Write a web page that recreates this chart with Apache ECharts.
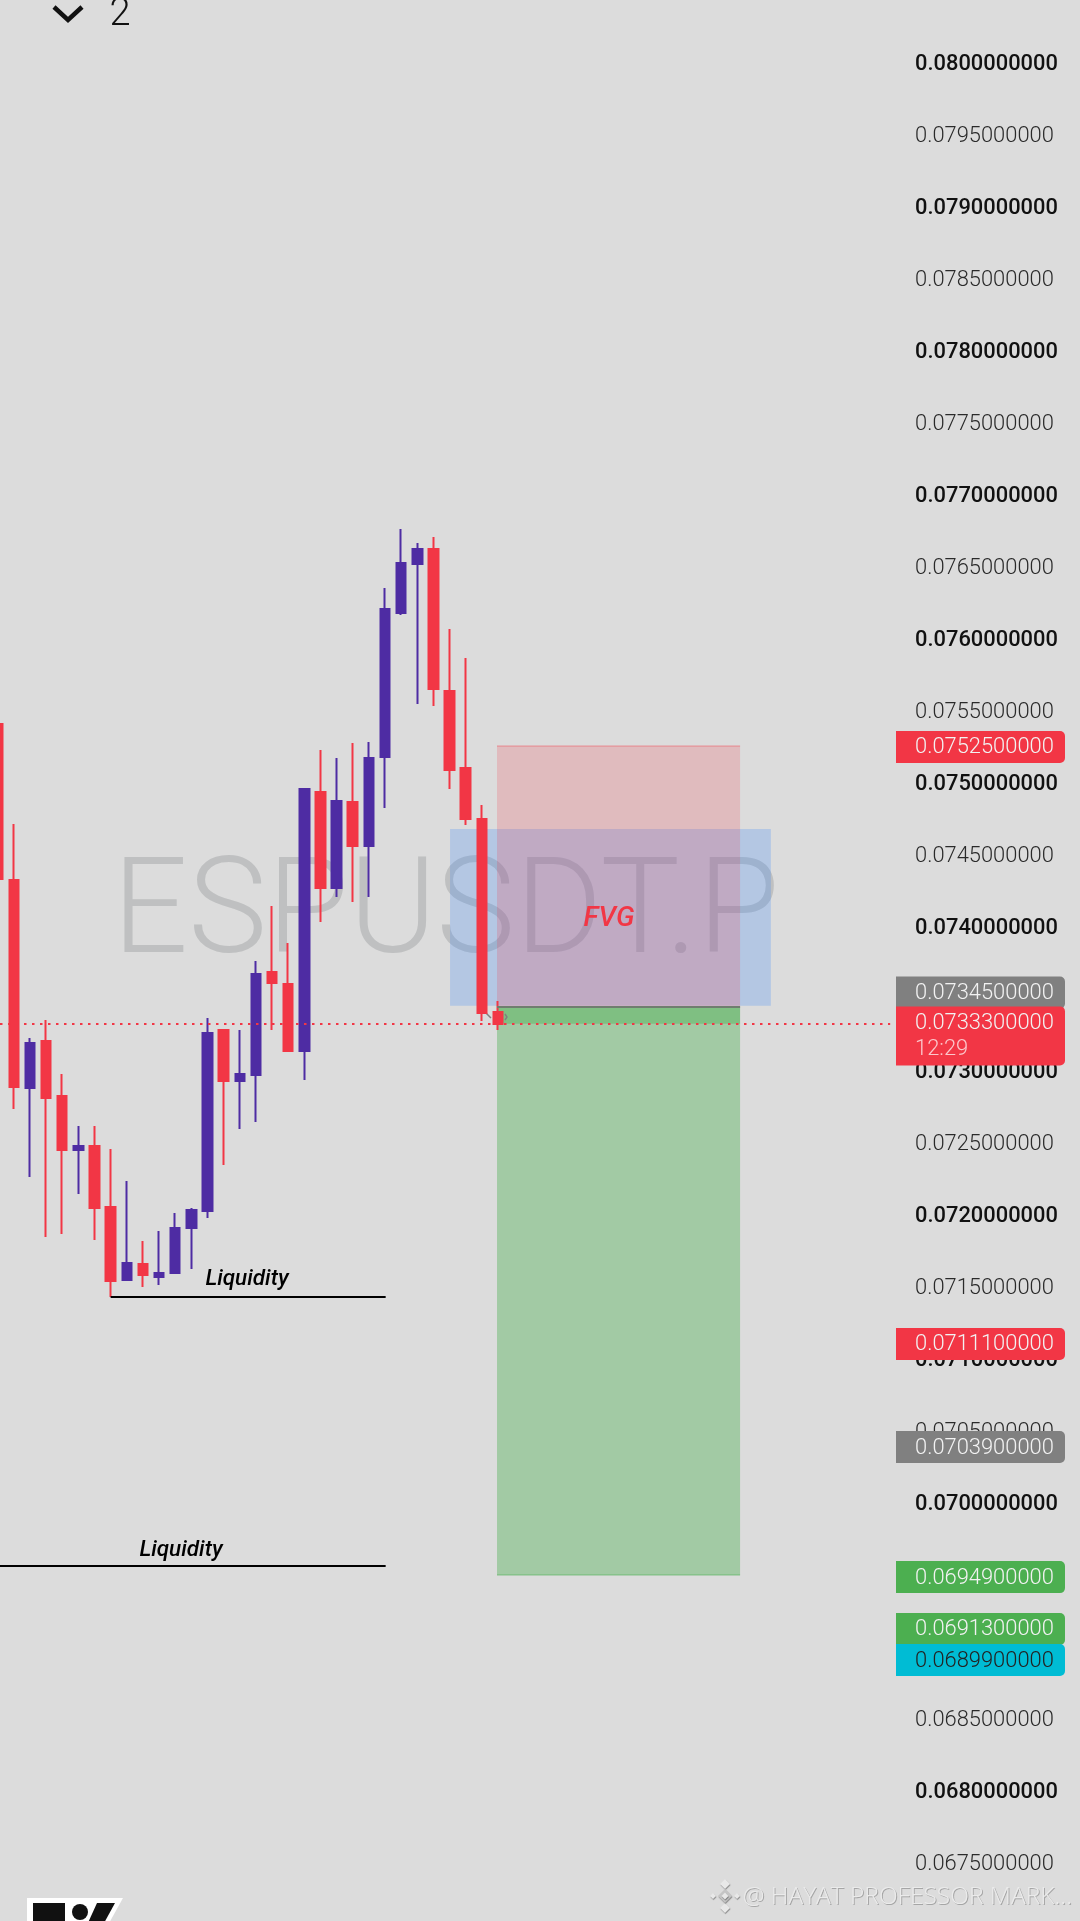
<!DOCTYPE html>
<html><head><meta charset="utf-8">
<style>html,body{margin:0;padding:0;background:#dcdcdc}#c{width:1080px;height:1921px}</style>
<script src="https://cdn.jsdelivr.net/npm/echarts@6/dist/echarts.min.js"></script>
</head><body><div id="c"></div>
<script>
const opens  =[.075403,.074319,.072874,.073201,.072819,.072443,.072471,.072048,.071540,.071652,.071561,.071589,.071902,.072020,.073277,.072923,.072965,.073680,.073597,.073131,.074931,.074264,.074861,.074555,.075174,.076174,.076514,.076619,.075632,.075097,.074743,.073402];
const closes =[.074326,.072881,.073187,.072805,.072443,.072471,.072041,.071533,.071658,.071575,.071589,.071902,.072027,.073256,.072923,.072971,.073666,.073604,.073131,.074951,.074264,.074868,.074555,.075167,.076202,.076521,.076619,.075646,.075083,.074743,.073395,.073319];
const lows   =[.074326,.072728,.072256,.071839,.071860,.072138,.071818,.071422,.071540,.071492,.071506,.071589,.071617,.071971,.072339,.072589,.072638,.073277,.073131,.072930,.074027,.074201,.074166,.074201,.074819,.076160,.075542,.075528,.074951,.074701,.073340,.073277];
const highs  =[.075403,.074708,.073222,.073347,.072971,.072610,.072610,.072450,.072228,.071811,.071881,.072006,.072041,.073360,.073277,.073277,.073756,.074139,.073882,.074958,.075222,.075167,.075271,.075278,.076348,.076758,.076660,.076702,.076063,.075861,.074840,.073479];

const slotCount=56, yMin=.067, yMax=.0805, yStep=.0005;
const categories=Array.from({length:slotCount},(_,i)=>String(i));

const zoneStart =[28.03,30.94,30.94,30.94];
const zoneEnd   =[47.91,46,46,46];
const zoneTop   =[.074673,.07525,.07344,.07344];
const zoneBottom=[.073446,.07344,.06949,.07332];
const zoneColor =['rgba(41,128,255,0.22)','rgba(242,54,69,0.2)','rgba(76,175,80,0.4)','rgba(76,175,80,0.4)'];

const lineStart=[7,-0.5,30.94,-0.351,30.94,30.94];
const lineEnd  =[24.04,24.04,46,55.3,46,46];
const lineLevel=[.071422,.069554,.07344,.073319,.07525,.06949];
const lineColor=['#000','#000','#6f7d6f','#f23645','rgba(242,54,69,0.3)','rgba(76,175,80,0.4)'];
const lineSize =[2,2,2,2,1.5,1.5];
const lineDash =['solid','solid','solid',[2.5,5.5],'solid','solid'];

const noteText =['Liquidity','Liquidity','FVG'];
const noteSlot =[15.45,11.36,37.88];
const noteLevel=[.071544,.069662,.074045];
const noteFill =['#000','#000','#f23645'];
const noteFont =['italic 500 22.5px Roboto','italic 500 22.5px Roboto','italic 500 28px Roboto'];

const tagPrice=[.07525,.07345,.07333,.07111,.07039,.06949,.06913,.06899];
const tagShift=[1,-12.5,0,2,1.5,2,2,13];
const tagFill =['#f23645','#808080','#f23645','#f23645','#808080','#4caf50','#4caf50','#00bcd4'];
const tagInk  =['#f2f2f2','#f2f2f2','#f2f2f2','#f2f2f2','#f2f2f2','#f2f2f2','#f2f2f2','#222'];
const tagExtra=['','','12:29','','','','',''];

const chart=echarts.init(document.getElementById('c'),null,{renderer:'canvas',width:1080,height:1921});

function diamond(cx,cy,r,fill){return {type:'polygon',z:20,shape:{points:[[cx,cy-r],[cx+r,cy],[cx,cy+r],[cx-r,cy]]},style:{fill,shadowColor:'rgba(0,0,0,0.4)',shadowBlur:1,shadowOffsetX:0.5,shadowOffsetY:1}};}

chart.setOption({
  animation:false,
  backgroundColor:'#dcdcdc',
  grid:{left:-10.4,top:-9.67,width:903.8,height:1943.19,containLabel:false,outerBoundsMode:'none'},
  xAxis:[
    {type:'category',data:categories,boundaryGap:true,axisLine:{show:false},axisTick:{show:false},axisLabel:{show:false},splitLine:{show:false}},
    {type:'value',min:-0.5,max:slotCount-0.5,show:false,splitLine:{show:false}}
  ],
  yAxis:{type:'value',position:'right',min:yMin,max:yMax,interval:yStep,scale:true,
    axisLine:{show:false},axisTick:{show:false},splitLine:{show:false},
    axisLabel:{margin:21.6,align:'left',padding:[5,0,0,0],showMinLabel:false,showMaxLabel:false,
      formatter:v=>{const t=v.toFixed(10);return Math.round(v*1e4)%10===0?'{a|'+t+'}':'{b|'+t+'}';},
      rich:{a:{fontFamily:'Roboto',fontSize:21.9,fontWeight:500,color:'#111'},
            b:{fontFamily:'Roboto',fontSize:21.9,fontWeight:300,color:'#2a2a2a'}}}},
  graphic:{elements:[
    {type:'text',z:0,style:{text:'ESPUSDT.P',x:112.5,y:918.5,font:'300 133px Roboto',fill:'#bfc0c1',verticalAlign:'middle'}},
    {type:'polyline',z:2,shape:{points:[[485,1012],[491,1018]]},style:{stroke:'#808080',lineWidth:1.5,fill:null}},
    {type:'polyline',z:2,shape:{points:[[505,1014],[507,1017],[505,1020]]},style:{stroke:'#808080',lineWidth:1.5,fill:null}},
    {type:'polyline',z:20,shape:{points:[[54,7],[68,20],[82,7]]},style:{stroke:'#111',lineWidth:4.5,fill:null}},
    {type:'text',z:20,style:{text:'2',x:120,y:15,font:'300 38px Roboto',fill:'#111',align:'center',verticalAlign:'middle'}},
    {type:'polygon',z:20,shape:{points:[[27,1898],[123,1898],[108,1925],[27,1925]]},style:{fill:'#fff'}},
    {type:'rect',z:21,shape:{x:33,y:1903,width:32,height:20},style:{fill:'#111'}},
    {type:'circle',z:21,shape:{cx:80,cy:1912,r:8},style:{fill:'#111'}},
    {type:'polygon',z:21,shape:{points:[[97,1903],[115,1903],[103,1925],[87,1925]]},style:{fill:'#111'}},
    diamond(725,1884,5,'#e8e8e8'),diamond(725,1908,5,'#e8e8e8'),diamond(713,1896,3,'#e8e8e8'),diamond(737,1896,3,'#e8e8e8'),
    diamond(725,1896,7,'#c4c4c4'),diamond(725,1896,3.5,'#e8e8e8'),
    {type:'text',z:20,style:{text:'@ HAYAT PROFESSOR MARK...',x:1073,y:1898,font:'300 24.5px "Open Sans"',fill:'#a6a6a6',align:'right',verticalAlign:'middle'}},
    {type:'text',z:21,style:{text:'@ HAYAT PROFESSOR MARK...',x:1072,y:1897,font:'300 24.5px "Open Sans"',fill:'#ebebeb',align:'right',verticalAlign:'middle'}}
  ]},
  series:[
    {type:'line',xAxisIndex:1,yAxisIndex:0,z:1,data:[],silent:true,
      markArea:{silent:true,data:zoneStart.map((s,i)=>[{coord:[s,zoneTop[i]],itemStyle:{color:zoneColor[i]}},{coord:[zoneEnd[i],zoneBottom[i]]}])}},
    {type:'candlestick',xAxisIndex:0,yAxisIndex:0,z:3,barWidth:10,
      data:opens.map((o,i)=>[o,closes[i],lows[i],highs[i]]),
      itemStyle:{color:'#4e2ca3',borderColor:'#4e2ca3',color0:'#f23645',borderColor0:'#f23645',borderWidth:2}},
    {type:'line',xAxisIndex:1,yAxisIndex:0,z:4,data:[],silent:true,
      markLine:{silent:true,symbol:'none',label:{show:false},animation:false,
        data:lineStart.map((s,i)=>[{coord:[s,lineLevel[i]],lineStyle:{color:lineColor[i],width:lineSize[i],type:lineDash[i]}},{coord:[lineEnd[i],lineLevel[i]]}])}},
    {type:'custom',xAxisIndex:1,yAxisIndex:0,z:5,silent:true,encode:{x:0,y:1},
      data:noteSlot.map((s,i)=>[s,noteLevel[i]]),
      renderItem:(p,api)=>{const i=p.dataIndex,c=api.coord([api.value(0),api.value(1)]);
        return {type:'text',style:{text:noteText[i],x:c[0],y:c[1],fill:noteFill[i],font:noteFont[i],align:'center',verticalAlign:'middle'}};}},
    {type:'custom',xAxisIndex:1,yAxisIndex:0,z:10,silent:true,clip:false,encode:{x:0,y:1},
      data:tagPrice.map((v,i)=>[i,v]),
      renderItem:(p,api)=>{const i=p.dataIndex,y=api.coord([0,api.value(1)])[1]+tagShift[i],two=!!tagExtra[i];
        const kids=[{type:'rect',shape:{x:896,y:y-16,width:169,height:two?59:32,r:[0,5,5,0]},style:{fill:tagFill[i]}},
          {type:'text',style:{text:tagPrice[i].toFixed(10),x:915,y:y+1,fill:tagInk[i],font:'300 21.9px Roboto',verticalAlign:'middle'}}];
        if(two)kids.push({type:'text',style:{text:tagExtra[i],x:915,y:y+27,fill:'rgba(255,255,255,0.72)',font:'300 21.9px Roboto',verticalAlign:'middle'}});
        return {type:'group',children:kids};}}
  ]
});
</script></body></html>
